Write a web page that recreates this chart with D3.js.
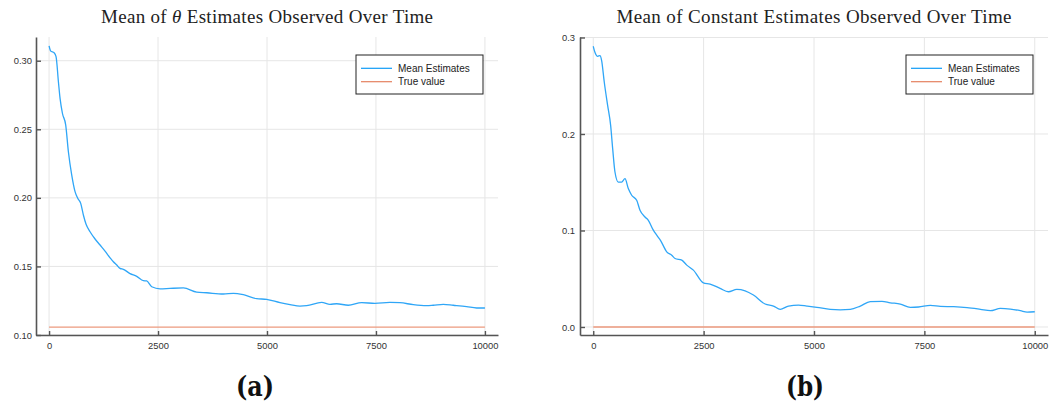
<!DOCTYPE html>
<html>
<head>
<meta charset="utf-8">
<script src="https://cdn.jsdelivr.net/npm/d3@7"></script>
<style>
  body { margin: 0; background: #fff; }
  svg { display: block; }
  .tick text { font-family: "Liberation Sans", Arial, sans-serif; font-size: 9.4px; fill: #333; }
</style>
</head>
<body>
<div id="chart"></div>
<script>
// iterations (x) and mean estimates
const thetaSteps = [0, 39, 115, 160, 214, 252, 306, 382, 443, 520, 596, 657, 726, 787, 849, 940, 1055, 1170, 1284, 1399, 1475, 1553, 1628, 1704, 1858, 2011, 2163, 2240, 2355, 2546, 2775, 3081, 3387, 3617, 3998, 4228, 4457, 4763, 4992, 5298, 5528, 5757, 5910, 6254, 6445, 6598, 6865, 7172, 7477, 7821, 8050, 8356, 8663, 8815, 9044, 9273, 9580, 9810, 10000];
const thetaMeans = [0.3109, 0.307, 0.3058, 0.303, 0.2847, 0.2725, 0.2617, 0.2531, 0.2336, 0.2166, 0.2045, 0.1997, 0.196, 0.1875, 0.1807, 0.1753, 0.170, 0.1656, 0.1612, 0.1563, 0.1534, 0.151, 0.1486, 0.1479, 0.1448, 0.1428, 0.1396, 0.1394, 0.1352, 0.1337, 0.134, 0.1343, 0.1313, 0.1308, 0.1299, 0.1304, 0.1294, 0.1265, 0.126, 0.1236, 0.1222, 0.1211, 0.1214, 0.1238, 0.1224, 0.1228, 0.1217, 0.1236, 0.1231, 0.1238, 0.1236, 0.1221, 0.1214, 0.1217, 0.1224, 0.1217, 0.1207, 0.1197, 0.1197];
const thetaTrue = 0.1058;

const constSteps = [0, 38, 100, 152, 190, 250, 326, 394, 440, 492, 567, 643, 719, 794, 870, 984, 1059, 1172, 1248, 1361, 1438, 1526, 1664, 1778, 1853, 2005, 2118, 2268, 2494, 2646, 2873, 3061, 3252, 3440, 3628, 3893, 4082, 4234, 4422, 4649, 4839, 5066, 5367, 5594, 5821, 6048, 6274, 6540, 6728, 6955, 7181, 7370, 7635, 7862, 8163, 8467, 8769, 8995, 9222, 9449, 9676, 9827, 10000];
const constMeans = [0.2909, 0.2847, 0.2805, 0.2812, 0.2761, 0.2536, 0.2296, 0.2089, 0.1848, 0.1606, 0.1502, 0.1502, 0.1537, 0.1434, 0.1365, 0.1313, 0.121, 0.114, 0.1106, 0.1003, 0.0951, 0.0895, 0.0779, 0.0744, 0.071, 0.0693, 0.0641, 0.0589, 0.0458, 0.0445, 0.040, 0.0365, 0.039, 0.0375, 0.0331, 0.0238, 0.0217, 0.0183, 0.0217, 0.0227, 0.0217, 0.0204, 0.0183, 0.0178, 0.0183, 0.0217, 0.0262, 0.0266, 0.0251, 0.0238, 0.0204, 0.0207, 0.0224, 0.0214, 0.021, 0.020, 0.0183, 0.0169, 0.0193, 0.0186, 0.0169, 0.0155, 0.0158];
const constTrue = 0.0;

const xTicks = [0, 2500, 5000, 7500, 10000];
const thetaYTicks = [0.10, 0.15, 0.20, 0.25, 0.30];
const constYTicks = [0.0, 0.1, 0.2, 0.3];
const legendLabels = ['Mean Estimates', 'True value'];

const width = 1051, height = 405;
const blue = '#2fa6f7', salmon = '#ec9a7e';

const svg = d3.select('#chart').append('svg')
  .attr('width', width)
  .attr('height', height);

const drawPanel = (opt) => {
  const { left, right, top, bottom } = opt.box;
  const g = svg.append('g');

  const x = d3.scaleLinear().domain([-300, 10300]).range([left, right]);
  const y = d3.scaleLinear().domain(opt.yDomain).range([bottom, top]);

  // grid
  g.append('g').selectAll('line').data(xTicks).enter().append('line')
    .attr('x1', d => x(d)).attr('x2', d => x(d))
    .attr('y1', top).attr('y2', bottom)
    .attr('stroke', '#e6e6e6').attr('stroke-width', 1);
  g.append('g').selectAll('line').data(opt.yTicks).enter().append('line')
    .attr('x1', left).attr('x2', right)
    .attr('y1', d => y(d)).attr('y2', d => y(d))
    .attr('stroke', '#e6e6e6').attr('stroke-width', 1);

  // axes
  const xAxis = g.append('g')
    .attr('transform', `translate(0,${bottom})`)
    .call(d3.axisBottom(x).tickValues(xTicks).tickFormat(d3.format('d'))
      .tickSizeInner(-4).tickSizeOuter(0).tickPadding(7));
  const yAxis = g.append('g')
    .attr('transform', `translate(${left},0)`)
    .call(d3.axisLeft(y).tickValues(opt.yTicks).tickFormat(d3.format(opt.yFormat))
      .tickSizeInner(-5).tickSizeOuter(0).tickPadding(opt.yPad));
  [xAxis, yAxis].forEach(a => {
    a.select('.domain').attr('stroke', '#555').attr('stroke-width', 1.6);
    a.selectAll('.tick line').attr('stroke', '#555').attr('stroke-width', 1.4);
  });

  // series
  g.append('line')
    .attr('x1', x(0)).attr('x2', x(10000))
    .attr('y1', y(opt.trueValue)).attr('y2', y(opt.trueValue))
    .attr('stroke', salmon).attr('stroke-width', 1.3);

  g.append('path')
    .datum(opt.steps.map((s, i) => ({ s, v: opt.means[i] })))
    .attr('fill', 'none')
    .attr('stroke', blue)
    .attr('stroke-width', 1.3)
    .attr('d', d3.line().curve(d3.curveMonotoneX).x(d => x(d.s)).y(d => y(d.v)));

  // title
  const title = g.append('text')
    .attr('x', (left + right) / 2)
    .attr('y', 22.5)
    .attr('text-anchor', 'middle')
    .attr('textLength', opt.titleWidth)
    .attr('lengthAdjust', 'spacing')
    .style('font-family', '"Liberation Serif", "Times New Roman", serif')
    .style('font-size', '19px')
    .style('fill', '#222');
  opt.title.forEach(part => {
    title.append('tspan').text(part.t).style('font-style', part.italic ? 'italic' : 'normal');
  });

  // legend
  const lw = 127, lh = 39;
  const lx = right - 15 - lw, ly = top + 18;
  const leg = g.append('g').attr('transform', `translate(${lx},${ly})`);
  leg.append('rect').attr('width', lw).attr('height', lh)
    .attr('fill', '#fff').attr('stroke', '#222').attr('stroke-width', 1);
  legendLabels.forEach((label, i) => {
    const ry = 13.3 + i * 13.4;
    leg.append('line').attr('x1', 5).attr('x2', 36).attr('y1', ry).attr('y2', ry)
      .attr('stroke', i === 0 ? '#0f9bf7' : '#e5805f').attr('stroke-width', 1.2);
    leg.append('text').attr('x', 42).attr('y', ry).attr('dy', '0.35em')
      .style('font-family', '"Liberation Sans", Arial, sans-serif')
      .style('font-size', '10px').style('fill', '#222')
      .text(label);
  });

  // sub-figure label
  svg.append('text')
    .attr('x', opt.labelX).attr('y', 396)
    .attr('text-anchor', 'middle')
    .attr('textLength', 38)
    .attr('lengthAdjust', 'spacingAndGlyphs')
    .style('font-family', '"DejaVu Serif", serif')
    .style('font-weight', 'bold')
    .style('font-size', '27px')
    .style('fill', '#111')
    .text(opt.label);
};

drawPanel({
  box: { left: 36, right: 498, top: 37, bottom: 335 },
  yDomain: [0.10, 0.3173],
  yTicks: thetaYTicks, yFormat: '.2f', yPad: 4,
  steps: thetaSteps, means: thetaMeans, trueValue: thetaTrue,
  title: [{ t: 'Mean of ' }, { t: 'θ', italic: true }, { t: ' Estimates Observed Over Time' }],
  titleWidth: 332,
  label: '(a)', labelX: 255
});

drawPanel({
  box: { left: 580, right: 1048, top: 37, bottom: 335 },
  yDomain: [-0.0083, 0.3005],
  yTicks: constYTicks, yFormat: '.1f', yPad: 5,
  steps: constSteps, means: constMeans, trueValue: constTrue,
  title: [{ t: 'Mean of Constant Estimates Observed Over Time' }],
  titleWidth: 395,
  label: '(b)', labelX: 805
});
</script>
</body>
</html>
